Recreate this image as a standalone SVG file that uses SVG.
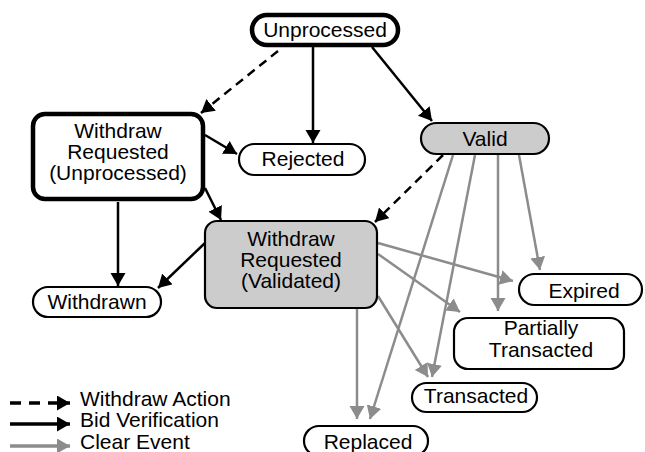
<svg xmlns="http://www.w3.org/2000/svg" width="645" height="452" viewBox="0 0 645 452">
<defs>
<marker id="ab" markerUnits="userSpaceOnUse" markerWidth="16" markerHeight="16" refX="13" refY="7.5" orient="auto"><path d="M0,0 L13,7.5 L0,15 z" fill="#000"/></marker>
<marker id="ag" markerUnits="userSpaceOnUse" markerWidth="16" markerHeight="16" refX="13" refY="7.5" orient="auto"><path d="M0,0 L13,7.5 L0,15 z" fill="#8c8c8c"/></marker>
</defs>
<style>
text{font-family:"Liberation Sans",Arial,sans-serif;font-size:21px;fill:#000;text-anchor:middle}
.n{fill:#fff;stroke:#000;stroke-width:2.2}
.thick{stroke-width:4.5}
.g{fill:#cccccc}
.b{stroke:#000;stroke-width:2.5;fill:none;marker-end:url(#ab)}
.d{stroke:#000;stroke-width:2.5;fill:none;stroke-dasharray:9,6;marker-end:url(#ab)}
.e{stroke:#8c8c8c;stroke-width:2.5;fill:none;marker-end:url(#ag)}
.lg{stroke-width:3.5}
.ld{stroke-dasharray:11,8}
.lt{text-anchor:start}
</style>
<g id="connectors">
<line class="b" x1="313" y1="47" x2="313" y2="143"/>
<line class="b" x1="372" y1="47" x2="432" y2="121"/>
<line class="b" x1="205" y1="135" x2="237" y2="154"/>
<line class="b" x1="205" y1="188" x2="221" y2="220"/>
<line class="b" x1="118" y1="202" x2="118" y2="286"/>
<line class="b" x1="205" y1="243" x2="158" y2="288"/>
<line class="d" x1="278" y1="51" x2="201" y2="113"/>
<line class="d" x1="443" y1="155" x2="375" y2="222"/>
<line class="e" x1="453" y1="155" x2="370" y2="419"/>
<line class="e" x1="475" y1="155" x2="432" y2="377"/>
<line class="e" x1="498" y1="155" x2="498" y2="311"/>
<line class="e" x1="519" y1="155" x2="540" y2="270"/>
<line class="e" x1="378" y1="243" x2="513" y2="281"/>
<line class="e" x1="378" y1="254" x2="460" y2="312"/>
<line class="e" x1="378" y1="296" x2="428" y2="377"/>
<line class="e" x1="357" y1="309" x2="357" y2="419"/>
</g>
<g id="unprocessed"><rect class="n thick" x="252" y="15" width="146" height="30" rx="15"/><text x="325" y="37">Unprocessed</text></g>
<g id="wr-unprocessed"><rect class="n thick" x="33" y="114" width="170" height="85" rx="12"/><text x="118" y="138">Withdraw</text><text x="118" y="159">Requested</text><text x="118" y="180">(Unprocessed)</text></g>
<g id="rejected"><rect class="n" x="239" y="144" width="126" height="31" rx="15.5"/><text x="303" y="166">Rejected</text></g>
<g id="valid"><rect class="n g" x="421" y="123" width="128" height="31" rx="15.5"/><text x="485" y="146">Valid</text></g>
<g id="wr-validated"><rect class="n g" x="205" y="221" width="172" height="87" rx="12"/><text x="291" y="246">Withdraw</text><text x="291" y="267">Requested</text><text x="291" y="288">(Validated)</text></g>
<g id="withdrawn"><rect class="n" x="33" y="287" width="128" height="30" rx="15"/><text x="97" y="309">Withdrawn</text></g>
<g id="expired"><rect class="n" x="519" y="274" width="123" height="31" rx="15.5"/><text x="584" y="298">Expired</text></g>
<g id="partially-transacted"><rect class="n" x="454" y="318" width="170" height="51" rx="14"/><text x="541" y="335">Partially</text><text x="541" y="357">Transacted</text></g>
<g id="transacted"><rect class="n" x="412" y="383" width="125" height="29" rx="14.5"/><text x="476" y="403">Transacted</text></g>
<g id="replaced"><rect class="n" x="304" y="426" width="124" height="30" rx="15"/><text x="368" y="449">Replaced</text></g>
<g id="legend">
<line class="d lg ld" x1="10" y1="403" x2="70" y2="403"/>
<line class="b lg" x1="10" y1="424" x2="70" y2="424"/>
<line class="e lg" x1="10" y1="446" x2="70" y2="446"/>
<text class="lt" x="80" y="406">Withdraw Action</text>
<text class="lt" x="80" y="427">Bid Verification</text>
<text class="lt" x="80" y="449">Clear Event</text>
</g>
</svg>
